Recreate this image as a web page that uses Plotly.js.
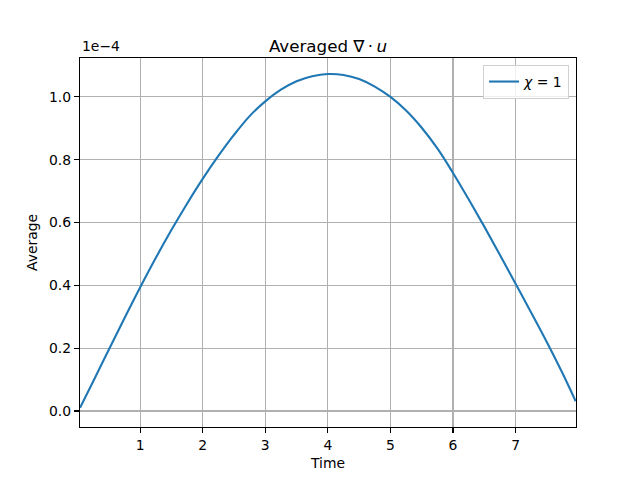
<!DOCTYPE html>
<html>
<head>
<meta charset="utf-8">
<script src="https://cdn.plot.ly/plotly-3.0.1.min.js"></script>
<style>html,body{margin:0;padding:0;background:#fff;}#chart{width:640px;height:480px;}</style>
</head>
<body>
<div id="chart"></div>
<script>
// Time values and averaged divergence (in units of 1e-4)
const time = [0.04, 0.25, 0.5, 0.75, 1.0, 1.25, 1.5, 1.75, 2.0, 2.25, 2.5, 2.75, 3.0, 3.25, 3.5, 3.75, 4.0, 4.25, 4.5, 4.75, 5.0, 5.25, 5.5, 5.75, 6.0, 6.25, 6.5, 6.75, 7.0, 7.25, 7.5, 7.75, 7.96];
const average = [0.010, 0.094, 0.195, 0.295, 0.393, 0.487, 0.576, 0.660, 0.739, 0.812, 0.879, 0.939, 0.986, 1.023, 1.050, 1.066, 1.073, 1.070, 1.057, 1.033, 1.000, 0.957, 0.902, 0.836, 0.758, 0.674, 0.587, 0.497, 0.405, 0.313, 0.219, 0.120, 0.031];
const xTicks = [1, 2, 3, 4, 5, 6, 7];
const yTicks = [0.0, 0.2, 0.4, 0.6, 0.8, 1.0];
const seriesName = "<i>χ</i> = 1";
const scaleLabel = "1e−4";

const font = {family: "DejaVu Sans", size: 13.9, color: "#000"};

const trace = {
  x: time, y: average, type: "scatter", mode: "lines",
  line: {color: "#1f77b4", width: 2.1, shape: "spline", smoothing: 1},
  name: seriesName
};

const axisCommon = {
  showline: true, linecolor: "#000", linewidth: 1.1, mirror: true,
  ticks: "outside", ticklen: 5, tickwidth: 1.1, tickcolor: "#000",
  showgrid: true, gridcolor: "#b0b0b0", gridwidth: 1.1,
  zeroline: false, tickfont: font
};

const layout = {
  width: 640, height: 480,
  margin: {l: 80, r: 64, t: 58, b: 53},
  paper_bgcolor: "#fff", plot_bgcolor: "#fff",
  font: font,
  title: {text: "Averaged ∇\u2009·\u2009<i>u</i>", font: {family: "DejaVu Sans", size: 16.7, color: "#000"},
          x: 0.5, xanchor: "center", xref: "paper", y: 1, yref: "paper", yanchor: "bottom", pad: {b: 6}},
  xaxis: Object.assign({}, axisCommon, {
    range: [0.04, 7.965], tickvals: xTicks, ticktext: xTicks.map(String),
    title: {text: "Time", font: font, standoff: 6}
  }),
  yaxis: Object.assign({}, axisCommon, {
    range: [-0.051, 1.124], tickvals: yTicks, ticktext: yTicks.map(v => v.toFixed(1)),
    title: {text: "Average", font: font, standoff: 8}
  }),
  showlegend: true,
  legend: {x: 0.986, y: 0.981, xanchor: "right", yanchor: "top",
           bgcolor: "rgba(255,255,255,0.8)", bordercolor: "#d0d0d0", borderwidth: 1,
           font: font},
  annotations: [{
    text: scaleLabel, xref: "paper", yref: "paper", x: 0, y: 1,
    xanchor: "left", yanchor: "bottom", yshift: 2, showarrow: false, font: font
  }]
};

Plotly.newPlot("chart", [trace], layout, {displayModeBar: false, staticPlot: true});
</script>
</body>
</html>
